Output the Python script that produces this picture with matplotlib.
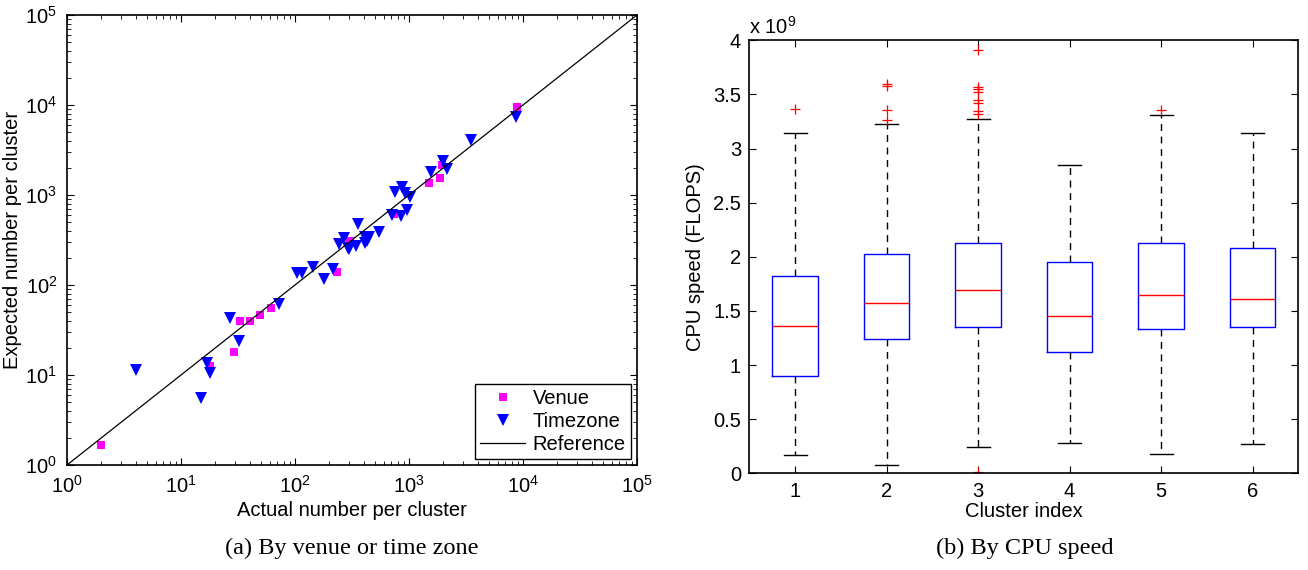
import numpy as np
import matplotlib
matplotlib.use('Agg')
import matplotlib.pyplot as plt
from matplotlib.ticker import FuncFormatter, LogLocator

plt.rcParams['font.family'] = ['Liberation Sans', 'DejaVu Sans']
plt.rcParams['mathtext.default'] = 'regular'
plt.rcParams['font.size'] = 14.5

# (a) cluster sizes: actual vs expected
venue_actual = [2, 18, 29, 33, 40, 49, 62, 232, 305, 425, 733, 1500, 1870, 1950, 8900]
venue_expected = [1.67, 12.5, 18, 40, 40, 47, 55, 138, 310, 360, 620, 1350, 1560, 2150, 9500]
tz_actual = [4, 15, 17, 18, 27, 32, 73, 105, 116, 145, 180, 217, 243, 270, 293, 300,
             340, 355, 410, 411, 430, 448, 550, 708, 850, 970, 750, 870, 930, 1020,
             1550, 2000, 2150, 3500, 8600]
tz_expected = [11.5, 5.5, 13.5, 10.5, 43, 24, 61, 135, 135, 157, 116, 152, 283, 330, 258, 248,
               270, 475, 340, 290, 310, 340, 390, 600, 585, 680, 1070, 1230, 1050, 940,
               1780, 2400, 1930, 4100, 7400]
ref_range = [1, 1e5]

# (b) CPU speed per cluster, in units of 1e9 FLOPS
clusters = [1, 2, 3, 4, 5, 6]
cpu_q1 = [0.90, 1.24, 1.35, 1.12, 1.33, 1.35]
cpu_med = [1.36, 1.57, 1.69, 1.45, 1.65, 1.61]
cpu_q3 = [1.82, 2.03, 2.13, 1.95, 2.13, 2.08]
cpu_lo = [0.17, 0.08, 0.24, 0.28, 0.18, 0.27]
cpu_hi = [3.14, 3.23, 3.27, 2.85, 3.31, 3.14]
cpu_fliers = [[3.37],
              [3.60, 3.58, 3.36, 3.26],
              [3.91, 3.57, 3.55, 3.52, 3.45, 3.42, 3.35, 3.32, 0.01],
              [],
              [3.36],
              []]

fig = plt.figure(figsize=(13.08, 5.70), dpi=100)
ax1 = fig.add_axes([0.0512, 0.1842, 0.4358, 0.7895])
ax2 = fig.add_axes([0.5729, 0.1696, 0.4197, 0.7596])

# left panel
ax1.plot(venue_actual, venue_expected, 's', color='#ff00ff', markersize=6.3,
         markeredgewidth=0, label='Venue')
ax1.plot(tz_actual, tz_expected, 'v', color='#0000ff', markersize=8.5,
         markeredgewidth=0, label='Timezone')
ax1.plot(ref_range, ref_range, '-', color='black', linewidth=0.9, label='Reference')
ax1.set_xscale('log')
ax1.set_yscale('log')
ax1.set_xlim(1, 1e5)
ax1.set_ylim(1, 1e5)
ax1.set_xlabel('Actual number per cluster', labelpad=3)
ax1.set_ylabel('Expected number per cluster', labelpad=2)
for axis in (ax1.xaxis, ax1.yaxis):
    axis.set_major_locator(LogLocator(base=10, numticks=10))
    axis.set_minor_locator(LogLocator(base=10, subs=np.arange(2, 10), numticks=10))
ax1.tick_params(which='both', direction='in', top=True, right=True)
ax1.tick_params(which='major', length=5, pad=7)
ax1.tick_params(which='minor', length=3)
leg = ax1.legend(loc='lower right', fancybox=False, edgecolor='black', framealpha=1,
                 borderaxespad=0.3, handlelength=2.2, labelspacing=0.2,
                 borderpad=0.25, handletextpad=0.4, fontsize=14.5)
leg.get_frame().set_linewidth(1.0)

# right panel
stats = []
for i in range(len(clusters)):
    stats.append(dict(med=cpu_med[i] * 1e9, q1=cpu_q1[i] * 1e9, q3=cpu_q3[i] * 1e9,
                      whislo=cpu_lo[i] * 1e9, whishi=cpu_hi[i] * 1e9,
                      fliers=[f * 1e9 for f in cpu_fliers[i]]))
ax2.bxp(stats, positions=clusters, widths=0.5,
        boxprops=dict(color='#0000ff', linewidth=1.0),
        medianprops=dict(color='#ff0000', linewidth=1.0),
        whiskerprops=dict(color='black', linestyle=(0, (5, 4)), linewidth=1.0),
        capprops=dict(color='black', linewidth=1.0),
        flierprops=dict(marker='+', markeredgecolor='#ff0000', markersize=6.5,
                        markeredgewidth=0.9))
ax2.set_xlim(0.5, 6.5)
ax2.set_ylim(0, 4e9)
ax2.set_xticks(clusters)
ax2.set_xticklabels([str(c) for c in clusters])
ax2.set_yticks(np.arange(0, 4.01e9, 0.5e9))
ax2.yaxis.set_major_formatter(FuncFormatter(lambda v, p: '%g' % (v / 1e9)))
ax2.tick_params(direction='in', top=True, right=True, length=5, pad=6)
ax2.set_xlabel('Cluster index', labelpad=1)
ax2.set_ylabel('CPU speed (FLOPS)', labelpad=6)
ax2.text(0.0, 1.005, r'x 10$^{9}$', transform=ax2.transAxes, ha='left', va='bottom', fontsize=14.5)

for ax in (ax1, ax2):
    for s in ax.spines.values():
        s.set_linewidth(1.2)

fig.text(352 / 1308, 1 - 548 / 570, '(a) By venue or time zone', ha='center', va='center',
         family='Liberation Serif', fontsize=17.5)
fig.text(1025 / 1308, 1 - 548 / 570, '(b) By CPU speed', ha='center', va='center',
         family='Liberation Serif', fontsize=17.5)

fig.savefig('out.png', dpi=100)
